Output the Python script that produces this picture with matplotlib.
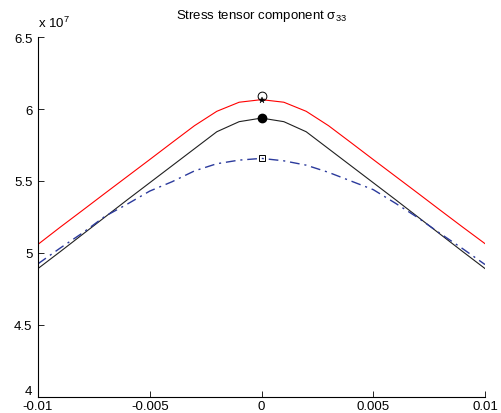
import numpy as np
import matplotlib.pyplot as plt
from matplotlib.ticker import FormatStrFormatter

plt.rcParams['font.family'] = ['Liberation Sans', 'DejaVu Sans']
plt.rcParams['mathtext.fontset'] = 'custom'
plt.rcParams['mathtext.rm'] = 'Liberation Sans'

# Positions across the section (m), one point every 0.001
x = np.round(np.arange(-0.01, 0.0101, 0.001), 4)

# Stress values in units of 1e7
red = [5.06, 5.18, 5.297, 5.415, 5.532, 5.649, 5.767, 5.884, 5.984, 6.047, 6.065,
       6.047, 5.984, 5.884, 5.767, 5.649, 5.532, 5.415, 5.297, 5.18, 5.065]
black = [4.892, 5.01, 5.13, 5.25, 5.37, 5.488, 5.606, 5.724, 5.842, 5.912, 5.937,
         5.912, 5.842, 5.724, 5.606, 5.488, 5.37, 5.25, 5.13, 5.01, 4.892]
blue = [4.925, 5.035, 5.14, 5.255, 5.34, 5.43, 5.495, 5.57, 5.62, 5.645, 5.657,
        5.64, 5.61, 5.56, 5.50, 5.44, 5.345, 5.245, 5.135, 5.03, 4.92]
circle_val = 6.09  # open circle just above the red peak

fig = plt.figure(figsize=(5.02, 4.14), dpi=100)
ax = fig.add_axes([38 / 502, 16 / 414, 447 / 502, 360 / 414])

ax.plot(x, red, color='red', lw=0.8)
ax.plot(x, black, color='#202020', lw=0.8)
ax.plot(x, blue, color='#2b3a9c', lw=1.0, ls=(0, (7, 3.5, 1.5, 3.5)))

i0 = list(x).index(0.0)
ax.plot(0, circle_val, 'o', mfc='none', mec='black', ms=6.3, mew=0.7)
ax.plot(0, red[i0], '*', color='black', ms=5, mew=0.3)
ax.plot(0, black[i0], 'o', color='black', ms=6)
ax.plot(0, blue[i0], 's', mfc='none', mec='black', ms=5, mew=0.7)

ax.set_xlim(-0.01, 0.01)
ax.set_ylim(4, 6.5)
ax.set_xticks([-0.01, -0.005, 0, 0.005, 0.01])
ax.set_yticks([4, 4.5, 5, 5.5, 6, 6.5])
ax.xaxis.set_major_formatter(FormatStrFormatter('%g'))
ax.yaxis.set_major_formatter(FormatStrFormatter('%g'))
ax.tick_params(direction='in', length=4, width=0.6, labelsize=9.5)
ax.tick_params(axis='y', pad=4)
ax.tick_params(axis='x', pad=2)
ax.get_yticklabels()[0].set_verticalalignment('bottom')
for s in ['top', 'right']:
    ax.spines[s].set_visible(False)
for s in ['left', 'bottom']:
    ax.spines[s].set_linewidth(0.8)

ax.text(0.0, 1.02, r'x 10$^7$', transform=ax.transAxes, fontsize=9.5,
        ha='left', va='bottom')
ax.set_title(r'Stress tensor component σ$_{33}$', fontsize=9.5, pad=14)

fig.savefig('out.png', dpi=100)
